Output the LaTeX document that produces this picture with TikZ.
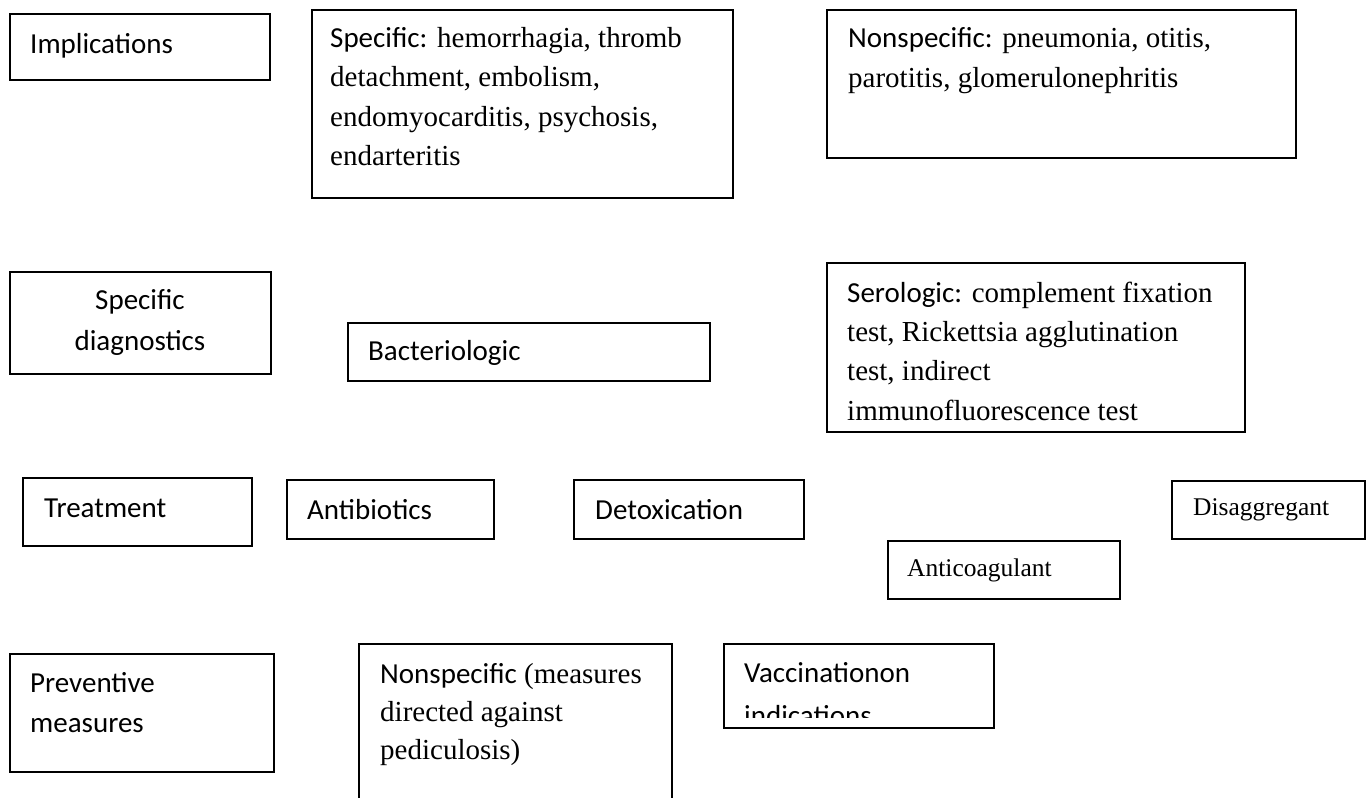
\documentclass[tikz,border=0pt]{standalone}
\usepackage{fontspec}
\setmainfont{Liberation Serif}
\newfontfamily\calib{Carlito}
% first-line strut: fixes the distance from the node top to the first baseline
\newcommand\lnstrut{\rule{0pt}{22pt}}
\begin{document}
\begin{tikzpicture}[x=1pt,y=-1pt,
  frame/.style={draw=black, line width=1.6pt, rectangle, inner sep=0pt, anchor=north west},
  txt/.style={inner sep=0pt, anchor=north west, align=left, font=\fontsize{29}{40}\selectfont},
  sans/.style={font=\calib\fontsize{29}{40}\selectfont},
  small/.style={font=\fontsize{25.5}{34}\selectfont}]
\clip (0,0) rectangle (1369,798);
\fill[white] (0,0) rectangle (1369,798);

% ---- row 1: implications
\node[frame, minimum width=260pt, minimum height=66pt] (impl) at (9,13) {};
\node[txt, sans] (implT) at (30,31) {\lnstrut Implications};

\node[frame, minimum width=421pt, minimum height=188pt] (spec) at (311,9) {};
\node[txt, font=\fontsize{29}{39.5}\selectfont] (specT) at (330,25)
  {\lnstrut{\calib Specific:} hemorrhagia, thromb\\detachment, embolism,\\endomyocarditis, psychosis,\\endarteritis};

\node[frame, minimum width=469pt, minimum height=148pt] (nspec) at (826,9) {};
\node[txt] (nspecT) at (848,25)
  {\lnstrut{\calib Nonspecific:} pneumonia, otitis,\\parotitis, glomerulonephritis};

% ---- row 2: specific diagnostics
\node[frame, minimum width=261pt, minimum height=102pt] (diag) at (9,271) {};
\node[txt, anchor=north, align=center, font=\calib\fontsize{29}{41}\selectfont] (diagT) at (140,287)
  {\lnstrut Specific\\diagnostics};

\node[frame, minimum width=362pt, minimum height=58pt] (bact) at (347,322) {};
\node[txt, sans] (bactT) at (368,338) {\lnstrut Bacteriologic};

\node[frame, minimum width=418pt, minimum height=169pt] (sero) at (826,262) {};
\node[txt, font=\fontsize{29}{39.3}\selectfont] (seroT) at (847,280)
  {\lnstrut{\calib Serologic:} complement fixation\\test, Rickettsia agglutination\\test, indirect\\immunofluorescence test};

% ---- row 3: treatment
\node[frame, minimum width=229pt, minimum height=68pt] (treat) at (22,477) {};
\node[txt, sans] (treatT) at (44,495) {\lnstrut Treatment};

\node[frame, minimum width=207pt, minimum height=59pt] (antib) at (286,479) {};
\node[txt, sans] (antibT) at (307,497) {\lnstrut Antibiotics};

\node[frame, minimum width=230pt, minimum height=59pt] (detox) at (573,479) {};
\node[txt, sans] (detoxT) at (595,497) {\lnstrut Detoxication};

\node[frame, minimum width=232pt, minimum height=58pt] (coag) at (887,540) {};
\node[txt, small] (coagT) at (907,554) {\lnstrut Anticoagulant};

\node[frame, minimum width=193pt, minimum height=58pt] (disag) at (1171,480) {};
\node[txt, small] (disagT) at (1193,493) {\lnstrut Disaggregant};

% ---- row 4: preventive measures
\node[frame, minimum width=264pt, minimum height=118pt] (prev) at (9,653) {};
\node[txt, sans] (prevT) at (30,670) {\lnstrut Preventive\\measures};

\node[frame, minimum width=313pt, minimum height=180pt] (nspecB) at (358,643) {};
\node[txt, font=\fontsize{29}{38}\selectfont] (nspecBT) at (380,661)
  {\lnstrut{\calib Nonspecific} (measures\\directed against\\pediculosis)};

\node[frame, minimum width=270pt, minimum height=84pt] (vacc) at (723,643) {};
\begin{scope}
  \clip (723,643) rectangle (993,717);
  \node[txt, font=\calib\fontsize{29}{43}\selectfont] (vaccT) at (744,660)
    {\lnstrut Vaccinationon\\indications};
\end{scope}
\end{tikzpicture}
\end{document}
